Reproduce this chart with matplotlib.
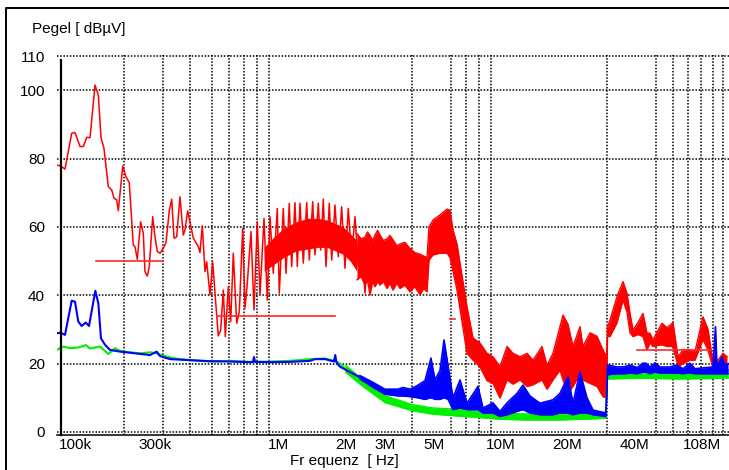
import numpy as np
import matplotlib
matplotlib.use('Agg')
import matplotlib.pyplot as plt
from matplotlib.ticker import NullFormatter
from matplotlib.lines import Line2D

plt.rcParams['font.family'] = ['Liberation Sans', 'DejaVu Sans']

# frequencies in MHz, levels in dBuV

# red trace, single line part (100k .. 2.5M)
red_f = [0.100, 0.1043, 0.109, 0.1168, 0.1209, 0.1274, 0.1318, 0.1365, 0.1413, 0.1488,
         0.1540, 0.1583, 0.1633, 0.1708, 0.1769, 0.1812, 0.1863, 0.1895, 0.1983, 0.2051,
         0.2123, 0.2213, 0.2253, 0.2307, 0.2389, 0.2455, 0.2498, 0.2559, 0.2613, 0.2706,
         0.2772, 0.2839, 0.2920, 0.3021, 0.3106, 0.3215, 0.3296, 0.3377, 0.3471, 0.3592,
         0.3717, 0.3783, 0.3891, 0.4124, 0.4344, 0.4420, 0.4527, 0.4656, 0.4739, 0.4903,
         0.5043, 0.5165, 0.5344, 0.5479, 0.5630, 0.5748, 0.5929, 0.6079, 0.6245, 0.6469,
         0.6646, 0.6884, 0.7050, 0.7221, 0.7503, 0.7741, 0.8010, 0.8236, 0.8587, 0.8885,
         0.9138, 0.9456, 0.9856, 1.006, 1.049, 1.079, 1.116, 1.144, 1.184, 1.213,
         1.247, 1.291, 1.337, 1.374, 1.423, 1.457, 1.508, 1.546, 1.588, 1.633,
         1.690, 1.733, 1.793, 1.855, 1.922, 1.989, 2.058, 2.132, 2.207, 2.284,
         2.365, 2.447, 2.533]
red_v = [78.1, 77.8, 76.9, 87.4, 87.6, 83.5, 83.5, 86.2, 86.1, 101.5,
         98.6, 86.2, 83.0, 71.8, 70.8, 68.4, 67.9, 64.7, 77.8, 74.7,
         72.9, 54.7, 54.2, 50.5, 61.5, 58.1, 46.9, 45.6, 48.4, 63.0,
         57.1, 52.8, 52.3, 53.7, 55.4, 64.7, 68.1, 56.7, 57.1, 68.8,
         57.6, 59.1, 64.7, 56.7, 54.2, 52.5, 60.3, 46.9, 49.8, 40.1,
         49.8, 40.6, 28.1, 29.8, 41.5, 27.9, 42.5, 32.3, 52.3, 31.8,
         35.2, 59.6, 36.2, 43.5, 58.6, 35.7, 61.5, 40.1, 62.5, 38.6,
         63.0, 46.4, 65.4, 40.6, 65.4, 46.4, 66.9, 48.4, 67.1, 48.4,
         66.9, 49.4, 67.1, 50.3, 67.4, 51.8, 66.9, 53.2, 68.1, 48.4,
         66.9, 50.3, 66.4, 51.3, 65.9, 47.9, 65.4, 51.3, 63.0, 48.4,
         55.7, 40.6, 54.2]

# solid core under the 1M..2.3M oscillation
red_core_f = [0.86, 0.95, 1.05, 1.2, 1.35, 1.5, 1.65, 1.8, 1.95, 2.1, 2.25]
red_core_lo = [47.0, 49.0, 51.0, 53.0, 53.5, 54.0, 54.0, 53.0, 52.0, 50.0, 47.0]
red_core_hi = [54.0, 57.0, 59.5, 61.5, 62.5, 62.5, 62.0, 61.0, 60.0, 58.0, 56.0]

# red trace, dense part drawn as band (lower / upper envelope)
red_band_f = [2.253, 2.35, 2.447, 2.51, 2.578, 2.65, 2.715, 2.79, 2.860, 2.96,
              3.075, 3.17, 3.273, 3.40, 3.519, 3.70, 3.903, 4.10, 4.330, 4.50,
              4.656, 4.754, 4.955, 5.330, 5.731, 5.911, 6.097, 6.357, 6.557, 7.050,
              7.503, 8.068, 8.676, 9.232, 9.927, 10.68, 11.36, 12.22, 13.14, 13.98,
              15.35, 16.17, 17.20, 18.50, 19.08, 20.10, 21.17, 22.76, 23.48, 25.26,
              27.15, 28.90, 29.98, 30.29, 31.08, 33.42, 35.56, 37.07, 38.23, 39.45,
              41.54, 43.75, 45.60, 47.04, 48.53, 53.29, 56.12, 59.72, 62.90, 66.25,
              71.24, 75.03, 81.53, 85.87, 90.44, 95.24, 100.3, 104.6]
red_band_lo = [44.5, 45.5, 43.0, 44.5, 40.1, 44.0, 42.5, 44.0, 43.0, 44.0,
               42.0, 43.5, 41.5, 43.5, 42.0, 43.0, 41.0, 42.5, 40.1, 42.0,
               41.0, 50.3, 51.8, 52.3, 52.3, 51.0, 47.0, 41.5, 36.0, 23.0,
               21.0, 19.0, 15.0, 14.2, 9.9, 15.2, 14.0, 15.2, 13.3, 13.8,
               15.2, 12.5, 15.2, 18.1, 15.2, 11.4, 13.3, 17.0, 15.2, 14.2,
               13.3, 10.3, 10.0, 27.9, 27.9, 32.0, 38.6, 35.0, 29.0, 27.9,
               28.5, 27.9, 24.0, 26.0, 25.0, 25.5, 25.0, 25.0, 19.1, 20.0,
               21.0, 21.0, 27.0, 24.0, 18.6, 18.6, 18.6, 18.0]
red_band_hi = [58.0, 56.5, 57.0, 58.5, 57.5, 56.0, 57.6, 59.0, 57.6, 56.0,
               56.5, 57.5, 56.2, 54.5, 55.0, 55.5, 53.7, 52.5, 52.0, 51.5,
               51.0, 60.0, 62.0, 63.5, 65.2, 64.8, 59.1, 55.0, 49.4, 36.7,
               27.5, 26.0, 23.0, 22.0, 19.1, 25.0, 23.0, 22.0, 23.0, 21.0,
               25.0, 19.5, 23.0, 30.8, 34.2, 31.5, 25.0, 30.8, 25.0, 29.0,
               28.0, 24.0, 22.0, 30.8, 32.8, 39.6, 44.0, 40.5, 34.7, 29.8,
               32.0, 34.7, 28.9, 28.9, 27.0, 31.8, 30.5, 32.0, 22.0, 24.0,
               24.0, 23.5, 33.7, 30.0, 20.5, 21.0, 23.0, 22.0]

# limit lines (start MHz, stop MHz, level dBuV)
lim_start = [0.15, 0.53, 5.9, 41.0, 76.0]
lim_stop = [0.30, 1.8, 6.2, 88.0, 108.0]
lim_level = [50.0, 34.0, 33.0, 24.0, 18.0]

# green trace
green_f = [0.100, 0.1071, 0.1148, 0.1251, 0.1355, 0.1413, 0.1567, 0.1708, 0.1831, 0.1928,
           0.2139, 0.2372, 0.2632, 0.2821, 0.3021, 0.3411, 0.3986, 0.4903, 0.6035, 0.7425,
           0.9138, 1.124, 1.384, 1.617, 1.793, 1.888, 2.0]
green_v = [24.0, 25.0, 24.5, 24.7, 25.4, 24.4, 25.0, 22.8, 24.5, 23.7,
           23.3, 23.0, 23.3, 23.0, 22.3, 21.5, 21.0, 20.6, 20.8, 20.5,
           20.6, 20.8, 21.3, 21.5, 20.8, 20.0, 18.5]
green_band_f = [2.0, 2.32, 3.01, 4.0, 4.95, 6.56, 8.07, 9.93, 13.1, 18.5,
                26.1, 29.7, 30.2, 42.5, 64.2, 87.7, 106.0]
green_band_lo = [17.5, 14.0, 8.6, 6.2, 5.2, 4.6, 4.2, 3.7, 3.5, 3.5,
                 3.8, 4.0, 15.5, 15.7, 15.5, 15.6, 15.8]
green_band_hi = [19.5, 16.0, 10.6, 8.0, 7.0, 6.6, 6.0, 5.5, 5.3, 5.3,
                 5.6, 5.8, 17.6, 17.6, 17.4, 17.5, 17.6]

# blue trace
blue_f = [0.100, 0.1043, 0.109, 0.1168, 0.1209, 0.1251, 0.1296, 0.1351, 0.1398, 0.1493,
          0.1540, 0.1583, 0.1650, 0.1738, 0.1928, 0.2253, 0.2632, 0.2821, 0.2920, 0.3239,
          0.3986, 0.4903, 0.6035, 0.7425, 0.7660, 0.7741, 0.7821, 0.9138, 1.124, 1.384,
          1.457, 1.617, 1.774, 1.798, 1.821, 1.888, 2.095, 2.32]
blue_v = [28.9, 29.0, 28.4, 38.4, 38.1, 32.3, 31.0, 32.0, 31.0, 41.3,
          37.6, 27.4, 25.5, 24.0, 23.5, 23.0, 22.5, 23.5, 22.2, 21.3,
          21.0, 20.7, 20.6, 20.4, 20.5, 21.9, 20.5, 20.4, 20.5, 20.8,
          21.3, 21.3, 20.6, 22.5, 20.3, 19.1, 17.5, 16.0]
blue_band_f = [2.32, 2.66, 3.01, 3.446, 3.63, 3.903, 4.198, 4.56, 4.853, 5.06,
               5.33, 5.555, 5.789, 6.097, 6.557, 7.05, 7.901, 8.326, 9.232, 9.927,
               10.68, 11.85, 12.6, 13.55, 15.03, 17.2, 18.5, 20.1, 21.17, 22.76,
               24.47, 26.07, 29.8, 30.3, 33.42, 36.3, 38.23, 41.12, 43.75, 45.13,
               47.04, 49.55, 52.2, 57.89, 62.25, 66.25, 71.24, 75.03, 83.25, 90.44,
               92.81, 94.26, 99.3, 102.4, 105.7]
blue_band_lo = [15.5, 13.0, 11.0, 10.5, 10.5, 10.3, 10.0, 9.5, 10.0, 9.5,
                9.5, 10.0, 9.5, 6.5, 7.0, 6.5, 6.5, 5.5, 5.5, 4.5,
                5.0, 6.0, 6.5, 5.5, 5.0, 5.0, 5.5, 5.5, 5.0, 5.5,
                5.5, 5.0, 4.5, 16.7, 17.0, 17.0, 17.2, 17.0, 17.5, 17.5,
                17.0, 17.5, 17.2, 17.2, 17.2, 17.0, 17.3, 17.0, 17.0, 17.0,
                17.0, 17.0, 17.0, 17.0, 17.0]
blue_band_hi = [16.5, 14.5, 12.5, 12.5, 13.0, 12.5, 13.5, 15.0, 21.6, 15.2,
                18.0, 26.9, 19.5, 10.0, 15.2, 8.4, 13.3, 7.0, 8.5, 6.0,
                8.5, 11.3, 13.7, 10.5, 8.4, 9.4, 11.3, 16.2, 8.4, 17.6,
                10.0, 6.4, 5.5, 19.6, 19.0, 19.1, 19.6, 18.8, 20.1, 20.1,
                19.0, 20.2, 19.0, 19.0, 19.6, 18.5, 20.1, 18.5, 18.8, 19.0,
                30.8, 19.0, 22.0, 19.5, 20.0]

x_tick_pos = [121e3, 277e3, 1e6, 2e6, 3e6, 5e6, 10e6, 20e6, 40e6, 81e6]
x_tick_lab = ['100k', '300k', '1M', '2M', '3M', '5M', '10M', '20M', '40M', '108M']
y_ticks = [0, 20, 40, 60, 80, 100, 110]

RED = '#ff0000'
BLUE = '#0000ff'
GREEN = '#00f000'


def hz(a):
    return np.array(a) * 1e6


fig = plt.figure(figsize=(7.29, 4.70), dpi=100)
ax = fig.add_axes([0.07778, 0.07447, 0.92373, 0.80926])

# red
ax.plot(hz(red_f), red_v, color=RED, lw=1.1, zorder=3)
ax.fill_between(hz(red_core_f), red_core_lo, red_core_hi, color=RED, lw=0, zorder=3)
ax.fill_between(hz(red_band_f), red_band_lo, red_band_hi, color=RED, lw=0, zorder=3)
ax.plot(hz(red_band_f), red_band_lo, color=RED, lw=1.0, zorder=3)
ax.plot(hz(red_band_f), red_band_hi, color=RED, lw=1.0, zorder=3)

# limits
for a, b, lev in zip(lim_start, lim_stop, lim_level):
    ax.plot([a * 1e6, b * 1e6], [lev, lev], color='#ff2828', lw=1.2, zorder=4)

# green
ax.plot(hz(green_f), green_v, color=GREEN, lw=1.5, zorder=5)
ax.fill_between(hz(green_band_f), green_band_lo, green_band_hi, color=GREEN, lw=0, zorder=5)
ax.plot(hz(green_band_f), green_band_lo, color=GREEN, lw=1.0, zorder=5)
ax.plot(hz(green_band_f), green_band_hi, color=GREEN, lw=1.0, zorder=5)

# blue
ax.plot(hz(blue_f), blue_v, color=BLUE, lw=1.5, zorder=6)
ax.fill_between(hz(blue_band_f), blue_band_lo, blue_band_hi, color=BLUE, lw=0, zorder=6)
ax.plot(hz(blue_band_f), blue_band_lo, color=BLUE, lw=1.0, zorder=6)
ax.plot(hz(blue_band_f), blue_band_hi, color=BLUE, lw=1.2, zorder=6)

ax.set_xscale('log')
ax.set_xlim(100e3, 108e6)
ax.set_ylim(-0.9, 110.4)

grid_pos = [m * 10.0 ** e for e in (5, 6, 7) for m in range(1, 10)] + [1e8]
grid_pos = [g for g in grid_pos if g > 100e3]
ax.set_xticks(grid_pos, minor=True)
ax.xaxis.set_minor_formatter(NullFormatter())
ax.set_xticks(x_tick_pos, x_tick_lab)
ax.set_yticks(y_ticks, [str(t) for t in y_ticks])
ax.tick_params(which='both', length=0, labelsize=11)
ax.tick_params(axis='x', pad=2)
ax.tick_params(axis='y', pad=8.5)

dot = (0, (1, 1.1))
ax.grid(which='minor', axis='x', color='black', lw=1.1, ls=dot)
ax.grid(which='major', axis='x', visible=False)
ax.grid(which='major', axis='y', color='black', lw=1.1, ls=dot)
ax.set_axisbelow(True)

for s in ['top', 'right', 'left']:
    ax.spines[s].set_visible(False)
ax.spines['bottom'].set_linewidth(1.1)

# y axis line, a few pixels right of the plot edge
fig.add_artist(Line2D([60.7 / 729, 60.7 / 729], [35 / 470, 1 - 60 / 470],
                      transform=fig.transFigure, color='black', lw=1.6, zorder=10))

fig.text(32 / 729, 1 - 29 / 470, 'Pegel [ dB\u00b5V]', fontsize=11, ha='left', va='center')
fig.text(344 / 729, 1 - 461 / 470, 'Fr equenz  [ Hz]', fontsize=11, ha='center', va='center')

# outer frame
fig.add_artist(Line2D([6 / 729, 6 / 729, 1.0], [0.0, 1 - 8.3 / 470, 1 - 8.3 / 470],
                      transform=fig.transFigure, color='black', lw=1.4))

fig.savefig('out.png', dpi=100)
